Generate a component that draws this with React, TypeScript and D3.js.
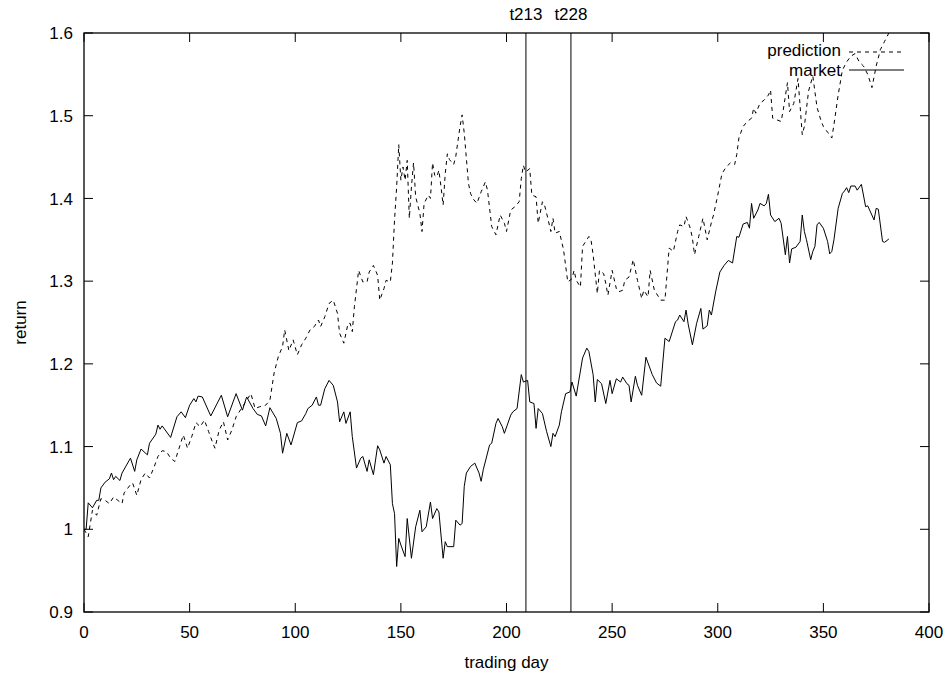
import React from "react";
import * as d3 from "d3";

// market (solid line): [trading day, return]
const marketDays = [
  0, 1, 2, 4, 6, 7, 8, 10, 12, 13, 14, 15, 17, 18, 22, 24, 25, 27, 30, 31, 34, 35, 36, 37, 41, 44, 46, 48, 50, 52,
  53, 54, 56, 60, 65, 68, 72, 75, 77, 80, 82, 84, 86, 88, 91, 93, 94, 96, 98, 101, 103, 105, 106, 108, 110, 111,
  112, 114, 116, 118, 120, 121, 123, 124, 126, 127, 129, 131, 132, 134, 135, 137, 139, 140, 142, 143, 145, 146,
  147, 148, 149, 150, 152, 153, 155, 157, 159, 160, 162, 164, 165, 167, 168, 170, 171, 172, 175, 176, 178, 179,
  180, 181, 183, 185, 187, 188, 189, 192, 193, 195, 196, 198, 199, 202, 203, 205, 207, 208, 210, 211, 213, 214,
  215, 217, 219, 221, 222, 223, 225, 226, 228, 230, 231, 233, 236, 238, 239, 241, 242, 243, 245, 247, 249, 250,
  252, 254, 255, 257, 258, 259, 261, 262, 264, 266, 269, 271, 273, 275, 277, 280, 281, 282, 284, 285, 286, 288,
  290, 292, 293, 295, 296, 297, 299, 301, 303, 305, 307, 309, 310, 312, 314, 315, 316, 317, 319, 320, 322, 323,
  324, 325, 327, 329, 330, 332, 333, 334, 335, 337, 339, 340, 341, 342, 344, 345, 346, 347, 348, 350, 352, 353,
  354, 355, 357, 359, 360, 361, 362, 363, 365, 366, 368, 370, 371, 374, 375, 376, 378, 379, 381,
];
const marketValues = [
  1.0, 1.0, 1.032, 1.026, 1.035, 1.035, 1.05, 1.057, 1.061, 1.068, 1.06, 1.064, 1.059, 1.068, 1.086, 1.07, 1.084,
  1.097, 1.09, 1.104, 1.115, 1.126, 1.121, 1.125, 1.111, 1.136, 1.142, 1.135, 1.15, 1.158, 1.154, 1.161, 1.16,
  1.137, 1.162, 1.136, 1.164, 1.144, 1.16, 1.146, 1.139, 1.137, 1.125, 1.147, 1.134, 1.116, 1.092, 1.116, 1.102,
  1.129, 1.131, 1.14, 1.146, 1.15, 1.16, 1.15, 1.15, 1.17, 1.18, 1.174, 1.154, 1.13, 1.142, 1.128, 1.142, 1.112,
  1.074, 1.086, 1.088, 1.07, 1.084, 1.066, 1.101, 1.096, 1.08, 1.088, 1.078, 1.031, 1.019, 0.955, 0.989, 0.981,
  0.967, 1.013, 0.965, 1.003, 1.023, 0.997, 1.003, 1.033, 1.013, 1.025, 1.021, 0.965, 0.985, 0.979, 0.979, 1.011,
  1.005, 1.007, 1.052, 1.068, 1.076, 1.08, 1.068, 1.058, 1.072, 1.102, 1.104, 1.128, 1.134, 1.124, 1.116, 1.138,
  1.142, 1.146, 1.187, 1.178, 1.18, 1.154, 1.152, 1.122, 1.146, 1.14, 1.118, 1.1, 1.116, 1.112, 1.126, 1.142,
  1.164, 1.166, 1.178, 1.161, 1.207, 1.219, 1.215, 1.187, 1.154, 1.181, 1.176, 1.152, 1.18, 1.164, 1.182, 1.178,
  1.184, 1.176, 1.174, 1.154, 1.185, 1.174, 1.162, 1.208, 1.187, 1.177, 1.173, 1.231, 1.227, 1.251, 1.253, 1.259,
  1.251, 1.265, 1.248, 1.223, 1.249, 1.267, 1.242, 1.246, 1.265, 1.259, 1.287, 1.311, 1.319, 1.325, 1.322, 1.354,
  1.353, 1.369, 1.371, 1.364, 1.394, 1.376, 1.386, 1.394, 1.391, 1.394, 1.405, 1.38, 1.372, 1.376, 1.37, 1.332,
  1.354, 1.322, 1.339, 1.341, 1.348, 1.38, 1.36, 1.35, 1.326, 1.336, 1.342, 1.368, 1.371, 1.364, 1.348, 1.333,
  1.336, 1.35, 1.388, 1.406, 1.409, 1.413, 1.407, 1.415, 1.415, 1.41, 1.417, 1.39, 1.391, 1.374, 1.388, 1.387,
  1.348, 1.347, 1.351,
];

// prediction (dashed line): [trading day, return]
const predictionDays = [
  0, 2, 4, 6, 8, 10, 12, 14, 16, 18, 19, 22, 23, 25, 27, 29, 31, 33, 35, 37, 39, 41, 43, 45, 47, 49, 51, 53, 55,
  57, 59, 61, 62, 64, 66, 68, 70, 72, 75, 79, 81, 83, 86, 88, 90, 92, 94, 95, 97, 99, 101, 103, 105, 107, 109,
  111, 112, 114, 116, 118, 120, 121, 123, 125, 126, 127, 128, 130, 132, 134, 135, 137, 139, 140, 142, 143, 145,
  146, 147, 148, 149, 150, 151, 152, 153, 154, 155, 156, 157, 159, 160, 161, 163, 164, 165, 166, 167, 168, 169,
  170, 171, 172, 173, 175, 176, 178, 179, 180, 182, 183, 184, 186, 188, 190, 191, 193, 195, 197, 199, 200, 202,
  204, 206, 207, 208, 209, 211, 212, 214, 215, 217, 218, 219, 221, 222, 223, 225, 227, 229, 231, 232, 233, 235,
  236, 239, 240, 241, 243, 244, 246, 247, 248, 250, 252, 253, 255, 256, 258, 260, 262, 264, 265, 267, 268, 270,
  273, 275, 277, 279, 281, 282, 284, 285, 287, 288, 289, 291, 293, 295, 297, 298, 300, 302, 304, 306, 308, 309,
  310, 312, 314, 316, 317, 318, 320, 322, 324, 325, 326, 328, 330, 331, 333, 334, 336, 338, 340, 341, 343, 345,
  347, 349, 350, 352, 354, 355, 357, 359, 361, 363, 365, 367, 369, 371, 373, 375, 377, 379, 381,
];
const predictionValues = [
  1.0, 0.991, 1.023, 1.017, 1.037, 1.035, 1.031, 1.039, 1.035, 1.031, 1.044, 1.054, 1.056, 1.041, 1.06, 1.068,
  1.062, 1.074, 1.088, 1.095, 1.094, 1.086, 1.082, 1.098, 1.114, 1.098, 1.112, 1.129, 1.124, 1.132, 1.118, 1.104,
  1.098, 1.12, 1.13, 1.108, 1.12, 1.136, 1.148, 1.164, 1.146, 1.148, 1.15, 1.156, 1.189, 1.209, 1.221, 1.241,
  1.216, 1.229, 1.211, 1.223, 1.231, 1.241, 1.245, 1.253, 1.245, 1.257, 1.273, 1.277, 1.261, 1.237, 1.225, 1.249,
  1.249, 1.239, 1.269, 1.313, 1.299, 1.299, 1.311, 1.319, 1.307, 1.277, 1.291, 1.301, 1.299, 1.322, 1.374, 1.414,
  1.465, 1.422, 1.438, 1.422, 1.446, 1.376, 1.414, 1.443, 1.402, 1.382, 1.36, 1.394, 1.404, 1.4, 1.443, 1.428,
  1.426, 1.434, 1.414, 1.392, 1.43, 1.454, 1.447, 1.441, 1.451, 1.487, 1.501, 1.479, 1.418, 1.406, 1.4, 1.394,
  1.408, 1.42, 1.41, 1.366, 1.356, 1.38, 1.37, 1.36, 1.386, 1.39, 1.396, 1.424, 1.44, 1.432, 1.436, 1.404, 1.402,
  1.37, 1.396, 1.392, 1.382, 1.36, 1.376, 1.358, 1.36, 1.338, 1.299, 1.303, 1.313, 1.301, 1.293, 1.342, 1.354,
  1.35, 1.332, 1.285, 1.313, 1.309, 1.297, 1.283, 1.313, 1.291, 1.287, 1.289, 1.301, 1.305, 1.326, 1.301, 1.279,
  1.289, 1.281, 1.313, 1.289, 1.277, 1.277, 1.34, 1.336, 1.36, 1.368, 1.366, 1.378, 1.364, 1.352, 1.332, 1.354,
  1.376, 1.35, 1.371, 1.38, 1.404, 1.43, 1.438, 1.443, 1.441, 1.453, 1.473, 1.487, 1.493, 1.497, 1.509, 1.503,
  1.515, 1.519, 1.525, 1.531, 1.497, 1.495, 1.493, 1.507, 1.54, 1.505, 1.515, 1.545, 1.477, 1.487, 1.53, 1.548,
  1.51, 1.493, 1.487, 1.48, 1.473, 1.489, 1.525, 1.555, 1.565, 1.572, 1.575, 1.565, 1.56, 1.55, 1.534, 1.56,
  1.58, 1.59, 1.6,
];

const xTicks = [0, 50, 100, 150, 200, 250, 300, 350, 400];
const yTicks = [0.9, 1.0, 1.1, 1.2, 1.3, 1.4, 1.5, 1.6];
const markerDays = [209.2, 230.5];
const markerLabels = ["t213", "t228"];

const W = 947;
const H = 673;
const left = 84;
const right = 929;
const top = 33;
const bottom = 612;
const tick = 9;
const font = "'Liberation Sans', Arial, Helvetica, sans-serif";
const fs = 17;

export default function App() {
  const x = d3.scaleLinear().domain([0, 400]).range([left, right]);
  const y = d3.scaleLinear().domain([0.9, 1.6]).range([bottom, top]);

  const line = d3
    .line<[number, number]>()
    .x((d) => x(d[0]))
    .y((d) => y(d[1]));

  const market = marketDays.map((d, i) => [d, marketValues[i]] as [number, number]);
  const prediction = predictionDays.map((d, i) => [d, predictionValues[i]] as [number, number]);

  const keyY = [50, 70];

  return (
    <svg
      width={W}
      height={H}
      style={{ position: "absolute", left: 0, top: 0, background: "#fff" }}
      fontFamily={font}
      fontSize={fs}
    >
      <defs>
        <clipPath id="plot">
          <rect x={left} y={top} width={right - left} height={bottom - top} />
        </clipPath>
      </defs>

      {/* ticks, inward with mirror */}
      {xTicks.map((t) => (
        <g key={"x" + t}>
          <line x1={x(t)} x2={x(t)} y1={bottom} y2={bottom - tick} stroke="#000" />
          <line x1={x(t)} x2={x(t)} y1={top} y2={top + tick} stroke="#000" />
          <text x={x(t)} y={bottom + 26} textAnchor="middle">
            {t}
          </text>
        </g>
      ))}
      {yTicks.map((t) => (
        <g key={"y" + t}>
          <line x1={left} x2={left + tick} y1={y(t)} y2={y(t)} stroke="#000" />
          <line x1={right} x2={right - tick} y1={y(t)} y2={y(t)} stroke="#000" />
          <text x={left - 11} y={y(t)} dy="0.36em" textAnchor="end">
            {d3.format("~g")(t)}
          </text>
        </g>
      ))}

      {/* marker lines with x2 labels */}
      {markerDays.map((d, i) => (
        <g key={"m" + i}>
          <line x1={x(d)} x2={x(d)} y1={top} y2={bottom} stroke="#000" />
          <text x={x(d)} y={20} textAnchor="middle">
            {markerLabels[i]}
          </text>
        </g>
      ))}

      <g clipPath="url(#plot)" fill="none" stroke="#000" strokeWidth={1}>
        <path d={line(prediction) ?? ""} strokeDasharray="4,4" />
        <path d={line(market) ?? ""} />
      </g>

      <rect
        x={left}
        y={top}
        width={right - left}
        height={bottom - top}
        fill="none"
        stroke="#000"
        strokeWidth={1.3}
      />

      {/* key */}
      <text x={841} y={keyY[0]} dy="0.36em" textAnchor="end">
        prediction
      </text>
      <line x1={849} x2={904} y1={keyY[0] + 2} y2={keyY[0] + 2} stroke="#000" strokeDasharray="4,4" />
      <text x={841} y={keyY[1]} dy="0.36em" textAnchor="end">
        market
      </text>
      <line x1={849} x2={904} y1={keyY[1]} y2={keyY[1]} stroke="#000" />

      <text x={20} y={(top + bottom) / 2} textAnchor="middle" transform={`rotate(-90 20 ${(top + bottom) / 2})`} dy="0.36em">
        return
      </text>
      <text x={(left + right) / 2} y={662} textAnchor="middle" dy="0.36em">
        trading day
      </text>
    </svg>
  );
}
